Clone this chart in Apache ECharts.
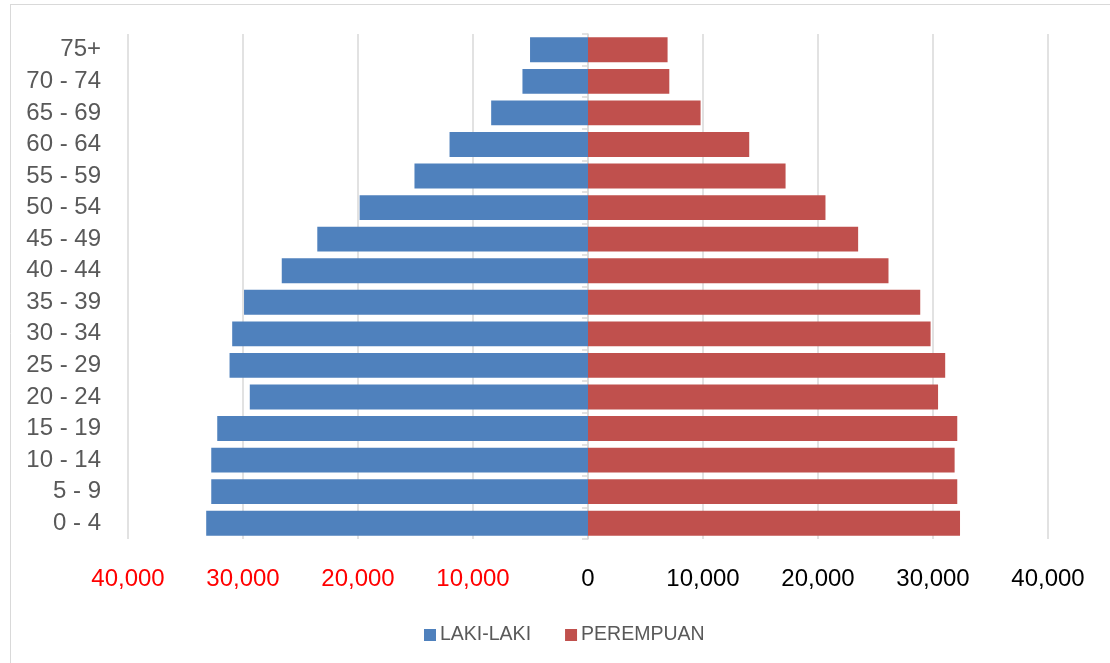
<!DOCTYPE html>
<html>
<head>
<meta charset="utf-8">
<script src="https://cdn.jsdelivr.net/npm/echarts@6/dist/echarts.min.js"></script>
<style>
  html, body { margin: 0; padding: 0; background: #fff; }
  #chart { width: 1110px; height: 663px; }
</style>
</head>
<body>
<div id="chart"></div>
<script>
// Age groups, youngest at the bottom
const ageGroups = ['0 - 4', '5 - 9', '10 - 14', '15 - 19', '20 - 24', '25 - 29', '30 - 34',
  '35 - 39', '40 - 44', '45 - 49', '50 - 54', '55 - 59', '60 - 64', '65 - 69', '70 - 74', '75+'];

// Population by sex for each age group
const lakiLaki = [33200, 32760, 32760, 32240, 29410, 31170, 30940, 29910,
  26630, 23540, 19860, 15090, 12040, 8420, 5700, 5040];
const perempuan = [32350, 32110, 31880, 32110, 30440, 31060, 29790, 28890,
  26130, 23490, 20650, 17180, 14020, 9790, 7070, 6920];

// Value-axis range and step
const axisMin = -40000;
const axisMax = 40000;
const axisStep = 10000;

const fontFamily = '"Liberation Sans", Arial, sans-serif';

const gridLeft = 128;
const gridWidth = 920;

const chart = echarts.init(document.getElementById('chart'), null, { renderer: 'canvas' });

const fmt = v => Math.abs(v).toLocaleString('en-US');

chart.setOption({
  animation: false,
  backgroundColor: '#ffffff',
  textStyle: { fontFamily },
  graphic: [
    // chart frame (top and left edges visible)
    { type: 'line', shape: { x1: 10, y1: 4.5, x2: 1110, y2: 4.5 }, style: { stroke: '#d9d9d9', lineWidth: 1 }, silent: true },
    { type: 'line', shape: { x1: 10.5, y1: 4, x2: 10.5, y2: 663 }, style: { stroke: '#d9d9d9', lineWidth: 1 }, silent: true }
  ],
  grid: { left: gridLeft, width: gridWidth, top: 34, height: 505, containLabel: false },
  legend: {
    data: ['LAKI-LAKI', 'PEREMPUAN'],
    left: 419,
    top: 620,
    icon: 'rect',
    itemWidth: 12,
    itemHeight: 12,
    itemGap: 34,
    textStyle: { color: '#595959', fontSize: 19.5, fontFamily, padding: [0, 0, 0, -1] }
  },
  xAxis: {
    type: 'value',
    min: axisMin,
    max: axisMax,
    interval: axisStep,
    axisLine: { show: false },
    axisTick: { show: false },
    splitLine: { show: true, lineStyle: { color: '#d9d9d9', width: 1.5 } },
    axisLabel: {
      margin: 28,
      fontSize: 24,
      fontFamily,
      formatter: fmt,
      color: v => (Number(v) < 0 ? '#ff0000' : '#000000')
    }
  },
  yAxis: [
    {
      // age-group labels along the left edge
      type: 'category',
      data: ageGroups,
      position: 'left',
      axisLine: { show: false },
      axisTick: { show: false },
      axisLabel: { margin: 27, fontSize: 24, color: '#595959', fontFamily }
    },
    {
      // centre axis line with boundary ticks, sitting at value 0
      type: 'category',
      data: ageGroups,
      position: 'left',
      offset: -gridWidth * (0 - axisMin) / (axisMax - axisMin),
      axisLine: { show: true, onZero: false, lineStyle: { color: '#d9d9d9', width: 1.5 } },
      axisTick: { show: true, length: 6, lineStyle: { color: '#d9d9d9', width: 1.5 } },
      axisLabel: { show: false }
    }
  ],
  series: [
    {
      name: 'LAKI-LAKI',
      type: 'bar',
      stack: 'pop',
      yAxisIndex: 0,
      barCategoryGap: '21%',
      itemStyle: { color: '#4f81bd' },
      data: lakiLaki.map(v => -v)
    },
    {
      name: 'PEREMPUAN',
      type: 'bar',
      stack: 'pop',
      yAxisIndex: 0,
      barCategoryGap: '21%',
      itemStyle: { color: '#c0504d' },
      data: perempuan
    }
  ]
});
</script>
</body>
</html>
